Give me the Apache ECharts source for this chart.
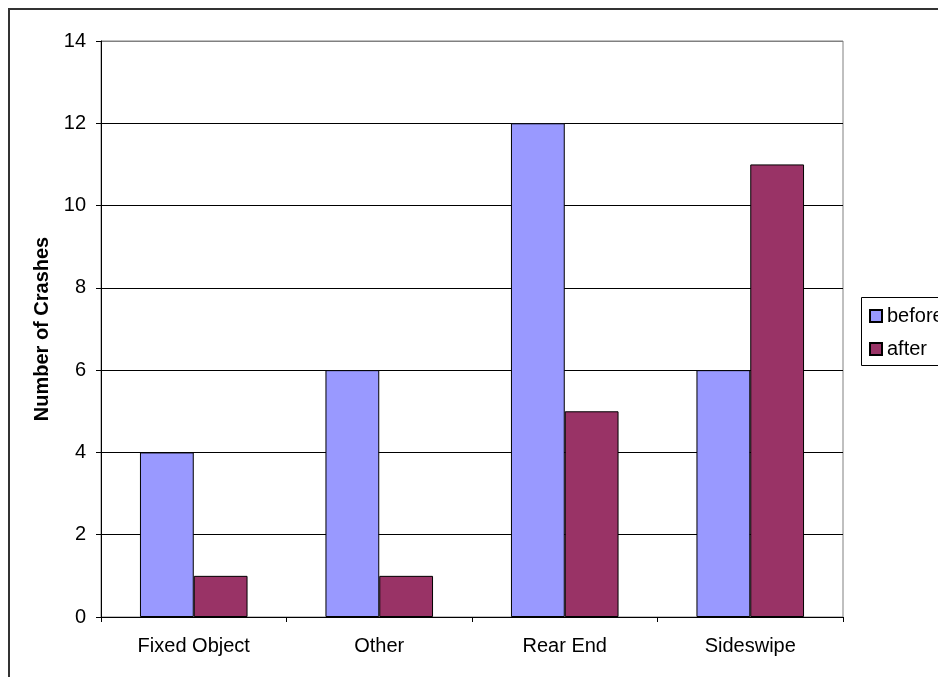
<!DOCTYPE html>
<html>
<head>
<meta charset="utf-8">
<script src="https://cdn.jsdelivr.net/npm/echarts@6/dist/echarts.min.js"></script>
<style>
  html, body { margin: 0; padding: 0; background: #fff; }
  #chart { width: 938px; height: 677px; }
</style>
</head>
<body>
<div id="chart"></div>
<script>
// Crash counts by type, before and after the change
const categories = ['Fixed Object', 'Other', 'Rear End', 'Sideswipe'];
const beforeValues = [4, 6, 12, 6];
const afterValues = [1, 1, 5, 11];
const yTicks = [0, 2, 4, 6, 8, 10, 12, 14];

const font = '"Liberation Sans", Arial, sans-serif';
const chart = echarts.init(document.getElementById('chart'));

// top gridline doubles as the plot frame, so it is grey
const splitColors = yTicks.map((v, i) => i === yTicks.length - 1 ? '#808080' : '#000');

chart.setOption({
  animation: false,
  backgroundColor: '#fff',
  textStyle: { fontFamily: font },
  grid: {
    left: 101, top: 41, right: 95, bottom: 60,
    show: true, borderColor: '#808080', borderWidth: 1
  },
  legend: {
    orient: 'vertical',
    left: 864, top: 301,
    icon: 'rect',
    itemWidth: 12, itemHeight: 12, itemGap: 13,
    textStyle: { fontFamily: font, fontSize: 20, color: '#000' },
    data: ['before', 'after']
  },
  xAxis: {
    type: 'category',
    data: categories,
    axisLine: { lineStyle: { color: '#000', width: 1 } },
    axisTick: { show: true, length: 5, lineStyle: { color: '#000' } },
    axisLabel: { fontFamily: font, fontSize: 20, color: '#000', margin: 19 }
  },
  yAxis: {
    type: 'value',
    min: 0, max: 14, interval: 2,
    name: 'Number of Crashes',
    nameLocation: 'middle',
    nameGap: 43,
    nameRotate: 90,
    nameTextStyle: { fontFamily: font, fontSize: 20, fontWeight: 'bold', color: '#000' },
    axisLine: { show: true, lineStyle: { color: '#000', width: 1 } },
    axisTick: { show: true, length: 5, lineStyle: { color: '#000' } },
    axisLabel: { fontFamily: font, fontSize: 20, color: '#000', margin: 15 },
    splitLine: { show: true, lineStyle: { color: splitColors, width: 1 } }
  },
  series: [
    {
      name: 'before', type: 'bar', data: beforeValues,
      barGap: '0%', barCategoryGap: '42%',
      itemStyle: { color: '#9999FF', borderColor: '#000', borderWidth: 1 }
    },
    {
      name: 'after', type: 'bar', data: afterValues,
      barGap: '0%', barCategoryGap: '42%',
      itemStyle: { color: '#993366', borderColor: '#000', borderWidth: 1 }
    }
  ],
  graphic: [
    {
      type: 'rect', silent: true, z: 100,
      shape: { x: 9, y: 9, width: 1000, height: 1000 },
      style: { fill: 'none', stroke: '#333', lineWidth: 2 }
    },
    {
      type: 'rect', silent: true, z: 100,
      shape: { x: 861.5, y: 297.5, width: 100, height: 68 },
      style: { fill: 'none', stroke: '#000', lineWidth: 1 }
    }
  ]
});
</script>
</body>
</html>
